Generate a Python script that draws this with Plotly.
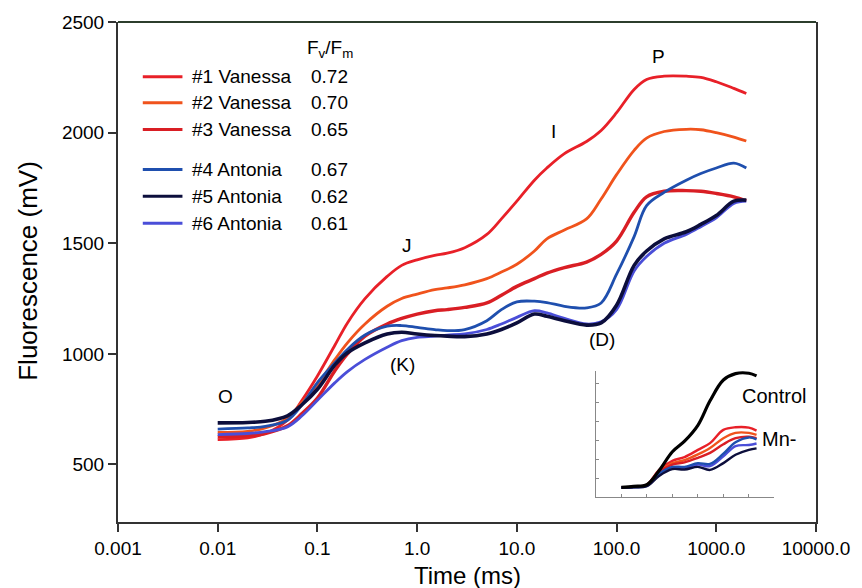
import numpy as np
import plotly.graph_objects as go

# Chlorophyll a fluorescence transients (OJIP), time in ms
time_ms = [0.01, 0.02, 0.03, 0.05, 0.07, 0.1, 0.15, 0.2, 0.3, 0.5, 0.7, 1,
           1.5, 2, 3, 5, 7, 10, 15, 20, 30, 50, 70, 100,
           150, 200, 300, 500, 700, 1000, 1500, 2000]

vanessa_1 = [612, 620, 640, 700, 790, 900, 1040, 1140, 1250, 1350, 1400, 1425,
             1445, 1455, 1480, 1540, 1610, 1690, 1785, 1840, 1905, 1960, 2010, 2090,
             2195, 2240, 2255, 2255, 2250, 2230, 2200, 2177]
vanessa_2 = [645, 650, 665, 710, 780, 860, 975, 1050, 1135, 1215, 1250, 1270,
             1290, 1298, 1312, 1340, 1370, 1405, 1465, 1520, 1560, 1610, 1700, 1810,
             1920, 1975, 2005, 2015, 2013, 2000, 1980, 1962]
vanessa_3 = [625, 630, 640, 675, 730, 800, 925, 1000, 1080, 1135, 1160, 1180,
             1195, 1200, 1210, 1230, 1265, 1305, 1340, 1365, 1390, 1415, 1450, 1510,
             1640, 1710, 1735, 1738, 1735, 1725, 1710, 1692]
antonia_4 = [660, 665, 672, 700, 770, 870, 960, 1020, 1085, 1125, 1128, 1120,
             1110, 1105, 1110, 1150, 1200, 1235, 1238, 1232, 1215, 1208, 1230, 1360,
             1530, 1670, 1730, 1785, 1815, 1840, 1862, 1840]
antonia_5 = [688, 690, 695, 720, 770, 840, 950, 1005, 1050, 1090, 1098, 1090,
             1083, 1080, 1078, 1090, 1110, 1140, 1180, 1170, 1150, 1130, 1140, 1220,
             1400, 1465, 1520, 1552, 1585, 1625, 1690, 1695]
antonia_6 = [635, 640, 648, 670, 720, 790, 870, 920, 975, 1030, 1060, 1075,
             1080, 1085, 1090, 1110, 1135, 1165, 1195, 1185, 1160, 1135, 1145, 1200,
             1375, 1440, 1500, 1540, 1575, 1615, 1680, 1690]

sample_names = ["#1 Vanessa", "#2 Vanessa", "#3 Vanessa", "#4 Antonia", "#5 Antonia", "#6 Antonia"]
fv_fm = ["0.72", "0.70", "0.65", "0.67", "0.62", "0.61"]

# Inset: control vs. Mn-deficient transients (arbitrary units)
inset_time = [0.01, 0.03, 0.1, 0.3, 1, 3, 10, 30, 100, 300, 1000, 2000]
inset_control = [260, 285, 330, 700, 1200, 1480, 1900, 2550, 3100, 3270, 3280, 3210]
inset_mn = [
    [260, 270, 330, 720, 960, 1060, 1250, 1430, 1780, 1850, 1840, 1760],
    [260, 270, 320, 680, 900, 980, 1130, 1300, 1560, 1700, 1700, 1650],
    [260, 270, 315, 660, 860, 920, 1040, 1170, 1400, 1560, 1600, 1560],
    [255, 265, 300, 620, 800, 800, 900, 880, 1150, 1450, 1580, 1530],
    [250, 260, 290, 560, 740, 730, 800, 720, 900, 1120, 1250, 1290],
    [250, 262, 295, 600, 780, 770, 860, 820, 1080, 1350, 1380, 1420],
]

x_ticks = [0.001, 0.01, 0.1, 1, 10, 100, 1000, 10000]
x_tick_text = ["0.001", "0.01", "0.1", "1.0", "10.0", "100.0", "1000.0", "10000.0"]
y_ticks = [500, 1000, 1500, 2000, 2500]

series = [vanessa_1, vanessa_2, vanessa_3, antonia_4, antonia_5, antonia_6]
colors = ["#e82028", "#f0531c", "#d91e24", "#1f4fae", "#0c0e3c", "#4a4ed8"]
widths = [2.8, 2.8, 3.4, 2.8, 3.6, 2.8]
draw_order = [0, 1, 2, 5, 3, 4]

FONT = "Liberation Sans, Arial, sans-serif"

fig = go.Figure()
for i in draw_order:
    fig.add_trace(go.Scatter(
        x=time_ms, y=series[i], mode="lines", name=sample_names[i],
        line=dict(color=colors[i], width=widths[i], shape="spline", smoothing=1.0),
        showlegend=False, xaxis="x", yaxis="y"))

for i in [0, 1, 2, 5, 3, 4]:
    fig.add_trace(go.Scatter(
        x=inset_time, y=inset_mn[i], mode="lines",
        line=dict(color=colors[i], width=2.4, shape="spline"),
        showlegend=False, xaxis="x2", yaxis="y2"))
fig.add_trace(go.Scatter(
    x=inset_time, y=inset_control, mode="lines",
    line=dict(color="black", width=3.2, shape="spline"),
    showlegend=False, xaxis="x2", yaxis="y2"))

W, H = 862, 588
L, R, T, B = 118, 40, 20, 66
pw, ph = W - L - R, H - T - B


def px(x):
    return (x - L) / pw


def py(y):
    return (H - B - y) / ph


def label(x, y, text, size, xanchor="center", **kw):
    return dict(xref="paper", yref="paper", x=px(x), y=py(y), text=text,
                showarrow=False, xanchor=xanchor, yanchor="middle",
                font=dict(size=size, color="black", family=FONT), **kw)


shapes = []
annotations = []

# top frame line
shapes.append(dict(type="line", xref="paper", yref="paper", x0=0, x1=1, y0=1, y1=1,
                   line=dict(color="#2c3e2c", width=2)))

# hand-built legend with Fv/Fm column
legend_rows = [75, 101, 128, 168, 195, 222]
for i, yr in enumerate(legend_rows):
    shapes.append(dict(type="line", xref="paper", yref="paper",
                       x0=px(143), x1=px(183), y0=py(yr), y1=py(yr),
                       line=dict(color=colors[i], width=3)))
    annotations.append(label(191, yr, sample_names[i], 19, xanchor="left"))
    annotations.append(label(311, yr, fv_fm[i], 19, xanchor="left"))
annotations.append(label(307, 47, "F<sub>v</sub>/F<sub>m</sub>", 19, xanchor="left"))

# transient step labels
steps = [("O", 0.0119, 807), ("J", 0.80, 1490), ("(K)", 0.71, 951),
         ("I", 23.1, 2006), ("P", 261, 2343), ("(D)", 70.8, 1063)]
for txt, t, v in steps:
    annotations.append(dict(x=np.log10(t), y=v, xref="x", yref="y", text=txt,
                            showarrow=False, xanchor="center", yanchor="middle",
                            font=dict(size=19, color="black", family=FONT)))

# inset labels
annotations.append(label(780, 395, "Control", 20))
annotations.append(label(766, 439, "Mn-", 20, xanchor="left"))

# axis titles
annotations.append(label(27, 270, "Fluorescence (mV)", 26, textangle=-90))
annotations.append(label(470, 576, "Time (ms)", 24))

fig.update_layout(
    width=W, height=H,
    margin=dict(l=L, r=R, t=T, b=B),
    paper_bgcolor="white", plot_bgcolor="white",
    font=dict(family=FONT, color="black"),
    shapes=shapes, annotations=annotations,
    xaxis=dict(type="log", range=[-3, 4], tickvals=x_ticks, ticktext=x_tick_text,
               ticks="outside", ticklen=8, tickwidth=2, tickcolor="#333",
               showline=True, linecolor="#333", linewidth=2, mirror=False,
               showgrid=False, zeroline=False,
               tickfont=dict(size=19, family=FONT, color="black")),
    yaxis=dict(range=[240, 2500], tickvals=y_ticks,
               ticks="outside", ticklen=8, tickwidth=2, tickcolor="#333",
               showline=True, linecolor="#333", linewidth=2, mirror=True,
               showgrid=False, zeroline=False,
               tickfont=dict(size=19, family=FONT, color="black")),
    xaxis2=dict(type="log", range=[-3, 4], domain=[px(600), px(780)], anchor="y2",
                tickvals=[0.01, 0.1, 1, 10, 100, 1000], showticklabels=False,
                ticks="inside", ticklen=3, tickcolor="#888",
                showline=True, linecolor="#888", linewidth=1, showgrid=False, zeroline=False),
    yaxis2=dict(range=[0, 3350], domain=[py(497), py(370)], anchor="x2",
                tickvals=[500, 1000, 1500, 2000, 2500, 3000], showticklabels=False,
                ticks="inside", ticklen=3, tickcolor="#888",
                showline=True, linecolor="#888", linewidth=1, showgrid=False, zeroline=False),
)

fig.write_html("out.html")
